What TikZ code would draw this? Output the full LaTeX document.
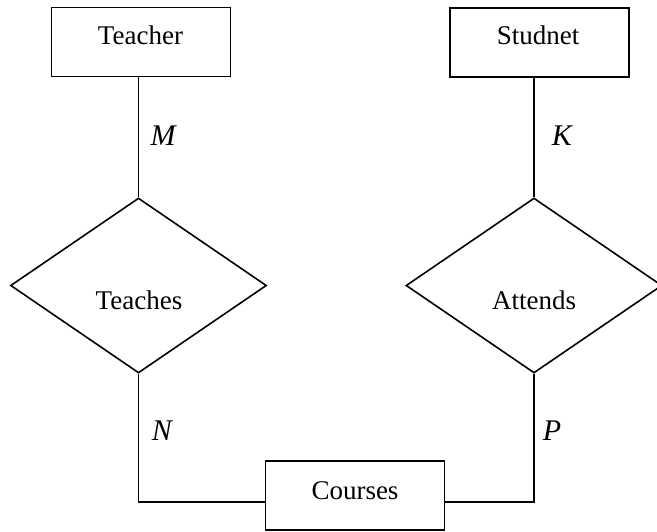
\documentclass[tikz,border=0pt]{standalone}
\usepackage{fontspec}
\setmainfont{Liberation Serif}
\usetikzlibrary{shapes.geometric}
\begin{document}
\begin{tikzpicture}[x=1pt,y=-1pt,
  entity/.style={draw, line width=1.6pt, minimum width=179pt, minimum height=69pt, inner sep=0pt},
  relation/.style={draw, diamond, line width=1.6pt, minimum width=256pt, minimum height=175pt, inner sep=0pt},
  lbltext/.style={font=\fontsize{27}{31}\selectfont, inner sep=0pt, anchor=base},
  cardtext/.style={font=\fontsize{30}{34}\selectfont\itshape, inner sep=0pt, anchor=base},
  conn/.style={draw, line width=1.6pt}]
\useasboundingbox (0,0) rectangle (657,531);
\fill[white] (0,0) rectangle (657,531);
\node[entity] (teacher) at (141,42) {};
\node[entity] (student) at (539.5,42.5) {};
\node[entity] (courses) at (355,495.5) {};
\node[relation] (teaches) at (138.5,285.5) {};
\node[relation] (attends) at (534,285.5) {};
\node[lbltext] (tteacher) at (140.5,44) {Teacher};
\node[lbltext] (tstudent) at (538,44) {Studnet};
\node[lbltext] (tcourses) at (355,499) {Courses};
\node[lbltext] (tteaches) at (139,309) {Teaches};
\node[lbltext] (tattends) at (534,309) {Attends};
\node[cardtext] (lm) at (163,145) {M};
\node[cardtext] (lk) at (562,145) {K};
\node[cardtext] (ln) at (162,440) {N};
\node[cardtext] (lp) at (552,440) {P};
\coordinate (cl) at ([yshift=-6.5pt]courses.west);
\coordinate (cr) at ([yshift=-6.5pt]courses.east);
\draw[conn] (teaches.north) -- (teaches.north |- teacher.south);
\draw[conn] (attends.north) -- (attends.north |- student.south);
\draw[conn] (teaches.south) |- (cl);
\draw[conn] (attends.south) |- (cr);
\end{tikzpicture}
\end{document}
